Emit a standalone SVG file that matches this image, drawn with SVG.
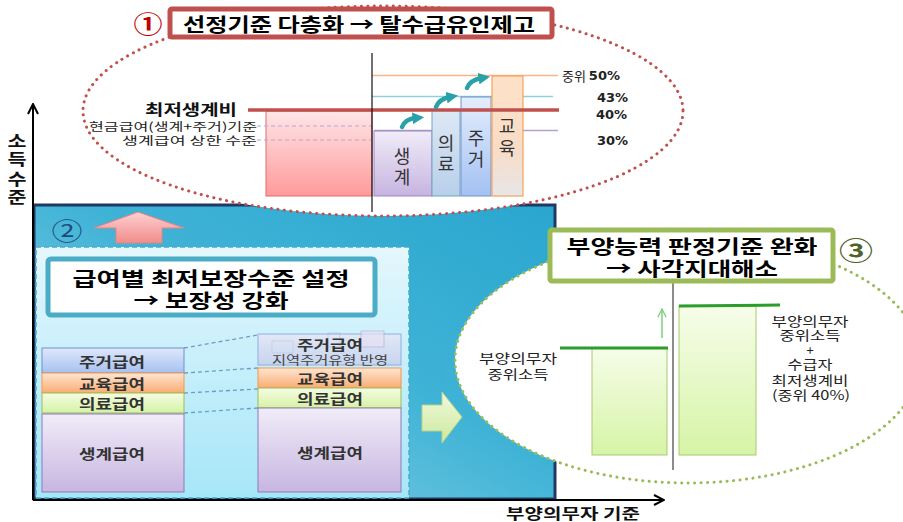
<svg xmlns="http://www.w3.org/2000/svg" width="903" height="522" viewBox="0 0 903 522">
<defs>
<style>
text{font-family:"Noto Sans CJK KR","Noto Sans",sans-serif;fill:#222}
.b{font-weight:bold}
.c{text-anchor:middle;dominant-baseline:central}
.r{text-anchor:end;dominant-baseline:central}
.l{text-anchor:start;dominant-baseline:central}
.ttl{font-weight:bold;fill:#000;font-size:19px}
.pct{font-family:"DejaVu Sans","Noto Sans CJK KR",sans-serif;font-weight:bold;font-size:13px;fill:#222}
.bar{font-size:18px;fill:#333}
.stk{font-size:13.5px;font-weight:bold;fill:#333}
.sm{font-size:13px;fill:#222}
.ax{font-size:16px;font-weight:bold;fill:#111}
.dotR{fill:#fff;stroke:#c0504d;stroke-width:3;stroke-dasharray:0.1 6.4;stroke-linecap:round}
.dotG{fill:#fff;stroke:#9bbb59;stroke-width:3;stroke-dasharray:0.1 6.4;stroke-linecap:round}
.conn{stroke:#6f9cc6;stroke-width:1.3;stroke-dasharray:4 3;fill:none}
.teal{fill:none;stroke:#2aa0a8;stroke-width:4.5;stroke-linecap:round}
</style>
<linearGradient id="gPanel" x1="0" y1="1" x2="1" y2="0">
<stop offset="0" stop-color="#9ad5e8"/><stop offset="0.55" stop-color="#3fb3d6"/><stop offset="1" stop-color="#2aa6cf"/>
</linearGradient>
<linearGradient id="gInner" x1="0" y1="0" x2="0" y2="1">
<stop offset="0" stop-color="#e4f7fd"/><stop offset="1" stop-color="#a6e6f9"/>
</linearGradient>
<linearGradient id="gPink" x1="0" y1="0" x2="0" y2="1">
<stop offset="0" stop-color="#ffe6e8"/><stop offset="1" stop-color="#ff9a9a"/>
</linearGradient>
<linearGradient id="gPur" x1="0" y1="0" x2="0" y2="1">
<stop offset="0" stop-color="#f1ecf8"/><stop offset="1" stop-color="#c6b4e0"/>
</linearGradient>
<linearGradient id="gUi" x1="0" y1="0" x2="0" y2="1">
<stop offset="0" stop-color="#dde8f4"/><stop offset="1" stop-color="#b8cfea"/>
</linearGradient>
<linearGradient id="gJu" x1="0" y1="0" x2="0" y2="1">
<stop offset="0" stop-color="#e4edfd"/><stop offset="1" stop-color="#a3c1f3"/>
</linearGradient>
<linearGradient id="gGy" x1="0" y1="0" x2="0" y2="1">
<stop offset="0" stop-color="#fde2c9"/><stop offset="0.6" stop-color="#f9dcc6"/><stop offset="1" stop-color="#e6e6e8"/>
</linearGradient>
<linearGradient id="sJu" x1="0" y1="0" x2="0" y2="1">
<stop offset="0" stop-color="#dfe8fb"/><stop offset="1" stop-color="#a6c1f0"/>
</linearGradient>
<linearGradient id="sGy" x1="0" y1="0" x2="0" y2="1">
<stop offset="0" stop-color="#fee5d2"/><stop offset="1" stop-color="#f9ad72"/>
</linearGradient>
<linearGradient id="sUi" x1="0" y1="0" x2="0" y2="1">
<stop offset="0" stop-color="#f4fce4"/><stop offset="1" stop-color="#d6f2a4"/>
</linearGradient>
<linearGradient id="sSg" x1="0" y1="0" x2="0" y2="1">
<stop offset="0" stop-color="#f1ecf8"/><stop offset="1" stop-color="#c7b6e1"/>
</linearGradient>
<linearGradient id="sJu2" x1="0" y1="0" x2="0" y2="1">
<stop offset="0" stop-color="#e2e8f6"/><stop offset="1" stop-color="#c6d4ee"/>
</linearGradient>
<linearGradient id="gUp" x1="0" y1="0" x2="0" y2="1">
<stop offset="0" stop-color="#fcd0d0"/><stop offset="1" stop-color="#f28c8c"/>
</linearGradient>
<linearGradient id="gRt" x1="0" y1="0" x2="0" y2="1">
<stop offset="0" stop-color="#f0fadc"/><stop offset="1" stop-color="#cde89c"/>
</linearGradient>
<linearGradient id="gBar3" x1="0" y1="0" x2="0" y2="1">
<stop offset="0" stop-color="#f6fde9"/><stop offset="1" stop-color="#d6f4a6"/>
</linearGradient>
<marker id="mTeal" viewBox="0 0 10 10" refX="3" refY="5" markerWidth="2.6" markerHeight="2.6" orient="auto">
<path d="M0,0 L10,5 L0,10 z" fill="#2aa0a8"/>
</marker>
<marker id="mOpen" viewBox="0 0 12 12" refX="11" refY="6" markerWidth="12" markerHeight="12" markerUnits="userSpaceOnUse" orient="auto">
<path d="M1,1 L11,6 L1,11" fill="none" stroke="#000" stroke-width="2"/>
</marker>
<marker id="mGreen" viewBox="0 0 12 12" refX="11" refY="6" markerWidth="10" markerHeight="10" markerUnits="userSpaceOnUse" orient="auto">
<path d="M1,1 L11,6 L1,11" fill="none" stroke="#7ccf7c" stroke-width="1.5"/>
</marker>
</defs>

<!-- Section 2 panel -->
<g id="panel2">
<rect x="34" y="205" width="521" height="294" fill="url(#gPanel)" stroke="#1f3864" stroke-width="3"/>
<rect x="36" y="247" width="373" height="251" fill="url(#gInner)" stroke="#4bacc6" stroke-width="1.5" stroke-dasharray="5 3"/>
<text x="67" y="229" class="c" style="font-size:24px;fill:#1f497d" textLength="31" lengthAdjust="spacingAndGlyphs">②</text>
<polygon points="138,212 184,228 162,228 162,243 116,243 116,228 94,228" fill="url(#gUp)" stroke="#e58383" stroke-width="1"/>
</g>

<g id="title2">
<rect x="48" y="259" width="327" height="56" rx="3" fill="#fff" stroke="#4bacc6" stroke-width="5"/>
<text x="211" y="277" class="c ttl" textLength="277" lengthAdjust="spacingAndGlyphs">급여별 최저보장수준 설정</text>
<text x="211" y="299" class="c ttl" textLength="155" lengthAdjust="spacingAndGlyphs">→ 보장성 강화</text>
</g>

<g id="connectors">
<line class="conn" x1="184" y1="348" x2="258" y2="335"/>
<line class="conn" x1="184" y1="373" x2="258" y2="368"/>
<line class="conn" x1="184" y1="393" x2="258" y2="389"/>
<line class="conn" x1="184" y1="413" x2="258" y2="408"/>
</g>

<g id="stackLeft">
<rect x="42" y="348" width="142" height="25" fill="url(#sJu)" stroke="#6f8fd0" stroke-width="1"/>
<text x="112" y="361" class="c stk" textLength="66" lengthAdjust="spacingAndGlyphs">주거급여</text>
<rect x="42" y="373" width="142" height="20" fill="url(#sGy)" stroke="#f79646" stroke-width="1"/>
<text x="112" y="383" class="c stk" textLength="66" lengthAdjust="spacingAndGlyphs">교육급여</text>
<rect x="42" y="393" width="142" height="20" fill="url(#sUi)" stroke="#9bbb59" stroke-width="1"/>
<text x="112" y="403" class="c stk" textLength="66" lengthAdjust="spacingAndGlyphs">의료급여</text>
<rect x="42" y="414" width="142" height="78" fill="url(#sSg)" stroke="#8f7bb5" stroke-width="1"/>
<text x="112" y="453" class="c stk" textLength="66" lengthAdjust="spacingAndGlyphs">생계급여</text>
</g>

<g id="stackRight">
<rect x="258" y="334" width="143" height="31" fill="url(#sJu2)" stroke="#92aee0" stroke-width="1"/>
<rect x="328" y="333" width="12" height="14" fill="none" stroke="#b3a8d4" stroke-width="0.7" opacity="0.6"/>
<rect x="361" y="331" width="23" height="16" fill="#e6e1f3" stroke="#a99cd0" stroke-width="0.7" opacity="0.7"/>
<rect x="272" y="341" width="21" height="12" fill="none" stroke="#b1bddb" stroke-width="0.7" opacity="0.6"/>
<text x="330" y="344" class="c stk" textLength="66" lengthAdjust="spacingAndGlyphs">주거급여</text>
<text x="330" y="359" class="c" style="font-size:12.5px;fill:#444" textLength="116" lengthAdjust="spacingAndGlyphs">지역주거유형 반영</text>
<rect x="258" y="368" width="143" height="20" fill="url(#sGy)" stroke="#f79646" stroke-width="1"/>
<text x="330" y="378" class="c stk" textLength="66" lengthAdjust="spacingAndGlyphs">교육급여</text>
<rect x="258" y="388" width="143" height="20" fill="url(#sUi)" stroke="#9bbb59" stroke-width="1"/>
<text x="330" y="398" class="c stk" textLength="66" lengthAdjust="spacingAndGlyphs">의료급여</text>
<rect x="258" y="408" width="143" height="84" fill="url(#sSg)" stroke="#8f7bb5" stroke-width="1"/>
<text x="330" y="452" class="c stk" textLength="66" lengthAdjust="spacingAndGlyphs">생계급여</text>
</g>

<g id="arrowRight">
<polygon points="422,405 442,405 442,392 462,417 442,443 442,431 422,431" fill="url(#gRt)" stroke="#b9d38a" stroke-width="1"/>
</g>

<!-- Section 1 -->
<g id="section1">
<ellipse cx="383" cy="111" rx="300" ry="105" class="dotR"/>
<rect x="266" y="111" width="106" height="85" fill="url(#gPink)" stroke="#e06a6a" stroke-width="1"/>
<line x1="257" y1="126" x2="372" y2="126" stroke="#b7a5d0" stroke-width="1.2" stroke-dasharray="4 3"/>
<line x1="257" y1="140" x2="372" y2="140" stroke="#b7a5d0" stroke-width="1.2" stroke-dasharray="4 3"/>
<line x1="372" y1="75.5" x2="558" y2="75.5" stroke="#f8b58a" stroke-width="1.5"/>
<line x1="372" y1="96.5" x2="553" y2="96.5" stroke="#8fcfe0" stroke-width="1.5"/>
<line x1="374" y1="130.5" x2="558" y2="130.5" stroke="#b3a2c7" stroke-width="1.5"/>
<rect x="374" y="131" width="58" height="65" fill="url(#gPur)" stroke="#9b86c4" stroke-width="1"/>
<rect x="432" y="110" width="28" height="86" fill="url(#gUi)" stroke="#6fa6c4" stroke-width="1"/>
<rect x="461" y="97" width="30" height="99" fill="url(#gJu)" stroke="#6e94c9" stroke-width="1"/>
<rect x="492" y="76" width="31" height="120" fill="url(#gGy)" stroke="#f5a25a" stroke-width="1.2"/>
<line x1="248" y1="110" x2="559" y2="110" stroke="#c0504d" stroke-width="3.5"/>
<line x1="372" y1="53" x2="372" y2="212" stroke="#111" stroke-width="1.2"/>
<text x="402" y="155" class="c bar">생</text>
<text x="402" y="176" class="c bar">계</text>
<text x="446" y="142" class="c bar">의</text>
<text x="446" y="163" class="c bar">료</text>
<text x="476" y="137" class="c bar">주</text>
<text x="476" y="158" class="c bar">거</text>
<text x="507" y="125" class="c bar">교</text>
<text x="507" y="147" class="c bar">육</text>
<path class="teal" d="M402,127 Q405,119 416,118" marker-end="url(#mTeal)"/>
<path class="teal" d="M436,107 Q439,99 450,97" marker-end="url(#mTeal)"/>
<path class="teal" d="M467,88 Q470,80 482,78" marker-end="url(#mTeal)"/>
<text x="237" y="108" class="r b" style="font-size:15px;fill:#111" textLength="92" lengthAdjust="spacingAndGlyphs">최저생계비</text>
<text x="257" y="126" class="r" style="font-size:11.5px" textLength="168" lengthAdjust="spacingAndGlyphs">현금급여(생계+주거)기준</text>
<text x="257" y="140" class="r" style="font-size:11.5px" textLength="135" lengthAdjust="spacingAndGlyphs">생계급여 상한 수준</text>
<text x="562" y="75" class="l" style="font-size:13px;fill:#222">중위  <tspan class="pct">50%</tspan></text>
<text x="628" y="97" class="r pct">43%</text>
<text x="627" y="114" class="r pct">40%</text>
<text x="628" y="140" class="r pct">30%</text>
</g>

<g id="title1">
<rect x="170" y="9" width="382" height="28" rx="2" fill="#fff" stroke="#c0504d" stroke-width="5"/>
<text x="359" y="23" class="c ttl" textLength="352" lengthAdjust="spacingAndGlyphs">선정기준 다층화 → 탈수급유인제고</text>
<text x="148" y="22" class="c b" style="font-size:24px;fill:#c00000" textLength="29" lengthAdjust="spacingAndGlyphs">①</text>
</g>

<!-- Section 3 -->
<g id="section3">
<ellipse cx="688" cy="360" rx="233" ry="123" class="dotG"/>
<line x1="673" y1="282" x2="673" y2="470" stroke="#8c8c8c" stroke-width="2"/>
<rect x="592" y="348" width="75" height="107" fill="url(#gBar3)" stroke="#a8c96e" stroke-width="1"/>
<rect x="679" y="306" width="77" height="149" fill="url(#gBar3)" stroke="#a8c96e" stroke-width="1"/>
<line x1="560" y1="348" x2="668" y2="348" stroke="#2a9d2a" stroke-width="3"/>
<line x1="679" y1="306" x2="780" y2="305" stroke="#2a9d2a" stroke-width="3"/>
<line x1="662" y1="338" x2="662" y2="309" stroke="#7ccf7c" stroke-width="1.5" marker-end="url(#mGreen)"/>
<text x="518" y="357" class="c sm" textLength="78" lengthAdjust="spacingAndGlyphs">부양의무자</text>
<text x="518" y="373" class="c sm" textLength="61" lengthAdjust="spacingAndGlyphs">중위소득</text>
<text x="810" y="320" class="c sm" textLength="77" lengthAdjust="spacingAndGlyphs">부양의무자</text>
<text x="810" y="334" class="c sm" textLength="61" lengthAdjust="spacingAndGlyphs">중위소득</text>
<text x="810" y="349" class="c sm">+</text>
<text x="810" y="363" class="c sm" textLength="45" lengthAdjust="spacingAndGlyphs">수급자</text>
<text x="810" y="379" class="c sm" textLength="77" lengthAdjust="spacingAndGlyphs">최저생계비</text>
<text x="811" y="394" class="c sm" textLength="78" lengthAdjust="spacingAndGlyphs">(중위 40%)</text>
</g>

<g id="title3">
<rect x="550" y="230" width="283" height="51" rx="2" fill="#fff" stroke="#9bbb59" stroke-width="5"/>
<text x="692" y="245" class="c ttl" textLength="251" lengthAdjust="spacingAndGlyphs">부양능력 판정기준 완화</text>
<text x="692" y="267" class="c ttl" textLength="172" lengthAdjust="spacingAndGlyphs">→ 사각지대해소</text>
<text x="856" y="249" class="c b" style="font-size:25px;fill:#4f6228" textLength="34" lengthAdjust="spacingAndGlyphs">③</text>
</g>

<g id="axes">
<line x1="33" y1="500" x2="33" y2="104" stroke="#000" stroke-width="2" marker-end="url(#mOpen)"/>
<line x1="33" y1="500" x2="664" y2="500" stroke="#000" stroke-width="2" marker-end="url(#mOpen)"/>
<text x="17" y="140" class="c ax" textLength="19" lengthAdjust="spacingAndGlyphs">소</text>
<text x="17" y="158" class="c ax" textLength="19" lengthAdjust="spacingAndGlyphs">득</text>
<text x="17" y="178" class="c ax" textLength="19" lengthAdjust="spacingAndGlyphs">수</text>
<text x="17" y="196" class="c ax" textLength="19" lengthAdjust="spacingAndGlyphs">준</text>
<text x="573" y="512" class="c b" style="font-size:15px;fill:#111" textLength="134" lengthAdjust="spacingAndGlyphs">부양의무자 기준</text>
</g>
</svg>
